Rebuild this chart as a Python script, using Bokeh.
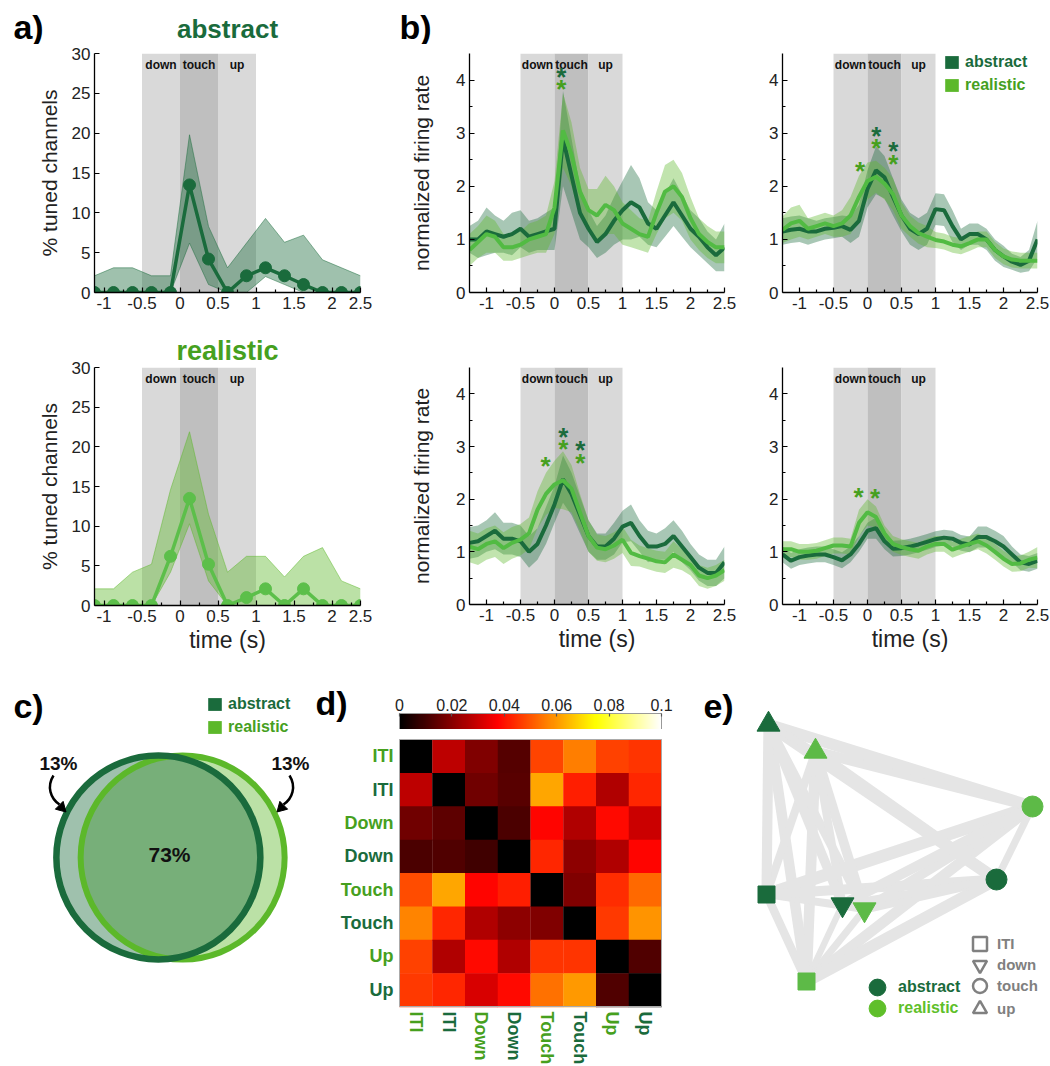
import math
import numpy as np
from bokeh.plotting import figure
from bokeh.layouts import row, column
from bokeh.models import (Range1d, FixedTicker, ColumnDataSource, Legend,
                          LegendItem, LinearColorMapper, PrintfTickFormatter)
from bokeh.transform import linear_cmap
from bokeh.core.properties import value
from bokeh.embed import file_html
from bokeh.resources import INLINE

FONT = "Liberation Sans"
DARK = "#1a6b3c"
LIGHT = "#5cb82a"
LIGHT_LINE = "#52bb43"
LIGHT_NODE = "#5dba47"
LIGHT_TXT = "#46a01e"
BAND = "#d9d9d9"
BAND_TOUCH = "#bfbfbf"
TXT = "#222222"

# ---------------- shared event windows (s) ----------------
event_names = ["down", "touch", "up"]
event_start = [-0.5, 0.0, 0.5]
event_end = [0.0, 0.5, 1.0]

# ---------------- a) % tuned channels ----------------
bin_time = [-1.125, -0.875, -0.625, -0.375, -0.125, 0.125, 0.375, 0.625,
            0.875, 1.125, 1.375, 1.625, 1.875, 2.125, 2.375]
tuned_abs_mean = [0, 0, 0, 0, 0, 13.5, 4.2, 0, 2.1, 3.1, 2.1, 1.0, 0, 0, 0]
tuned_abs_hi = [2.1, 3.1, 3.1, 2.1, 2.1, 19.8, 8.3, 3.1, 6.2, 9.3, 6.3, 7.2, 4.1, 3.1, 2.1]
tuned_abs_lo = [0, 0, 0, 0, 0, 6.2, 1.0, 0, 0, 2.0, 1.0, 0, 0, 0, 0]
tuned_real_mean = [0, 0, 0, 0, 6.2, 13.5, 5.2, 0, 1.0, 2.1, 0, 2.1, 0, 0, 0]
tuned_real_hi = [2.1, 2.1, 4.2, 5.2, 14.6, 21.9, 11.5, 4.2, 6.2, 6.2, 3.6, 6.2, 7.3, 3.1, 2.1]
tuned_real_lo = [0, 0, 0, 0, 4.2, 10.3, 3.1, 0, 0, 0, 0, 0, 0, 0, 0]

# ---------------- b) normalized firing rate (mean and sem) ----------------
b_time = [-1.25, -1.125, -1.0, -0.875, -0.75, -0.625, -0.5, -0.375, -0.25, -0.125,
          0.0, 0.125, 0.25, 0.375, 0.5, 0.625, 0.75, 0.875, 1.0, 1.125,
          1.25, 1.375, 1.5, 1.625, 1.75, 1.875, 2.0, 2.125, 2.25, 2.375, 2.5]

b1_abs = [1.0, 1.0, 1.15, 1.1, 1.05, 1.1, 1.2, 1.05, 1.1, 1.15,
          1.2, 2.9, 2.2, 1.5, 1.2, 0.95, 1.1, 1.35, 1.55, 1.7,
          1.6, 1.3, 1.2, 1.45, 1.7, 1.45, 1.2, 1.05, 0.85, 0.7, 0.85]
b1_abs_sem = [0.25, 0.35, 0.45, 0.35, 0.3, 0.4, 0.35, 0.3, 0.3, 0.35,
              0.4, 0.9, 0.7, 0.5, 0.35, 0.3, 0.35, 0.45, 0.55, 0.7,
              0.55, 0.4, 0.35, 0.4, 0.45, 0.4, 0.35, 0.35, 0.3, 0.3, 0.45]
b1_real = [0.8, 0.95, 1.1, 1.05, 0.85, 0.85, 0.9, 1.0, 1.05, 1.1,
           1.6, 3.05, 2.6, 1.9, 1.55, 1.45, 1.65, 1.55, 1.3, 1.2,
           1.1, 1.05, 1.5, 1.9, 2.0, 1.8, 1.4, 1.1, 0.95, 0.85, 0.85]
b1_real_sem = [0.3, 0.3, 0.35, 0.3, 0.25, 0.25, 0.25, 0.3, 0.3, 0.35,
               0.5, 0.7, 0.6, 0.45, 0.4, 0.5, 0.55, 0.45, 0.4, 0.35,
               0.3, 0.3, 0.4, 0.5, 0.5, 0.45, 0.4, 0.3, 0.3, 0.3, 0.3]

b2_abs = [1.15, 1.18, 1.2, 1.15, 1.15, 1.2, 1.22, 1.25, 1.18, 1.35,
          1.95, 2.3, 2.17, 1.8, 1.45, 1.2, 1.1, 1.2, 1.57, 1.55,
          1.25, 1.0, 1.1, 1.1, 1.0, 0.8, 0.68, 0.58, 0.52, 0.6, 1.0]
b2_abs_sem = [0.25, 0.25, 0.25, 0.25, 0.2, 0.2, 0.2, 0.2, 0.25, 0.3,
              0.35, 0.45, 0.4, 0.35, 0.3, 0.3, 0.3, 0.3, 0.3, 0.3,
              0.3, 0.2, 0.2, 0.2, 0.2, 0.2, 0.2, 0.15, 0.15, 0.2, 0.35]
b2_real = [1.18, 1.3, 1.35, 1.2, 1.25, 1.3, 1.25, 1.3, 1.45, 1.8,
           2.1, 2.18, 2.05, 1.85, 1.45, 1.25, 1.12, 1.05, 0.99, 0.96,
           0.9, 0.87, 0.93, 1.0, 1.0, 0.8, 0.68, 0.62, 0.6, 0.6, 0.6]
b2_real_sem = [0.25, 0.3, 0.3, 0.2, 0.2, 0.2, 0.2, 0.25, 0.35, 0.4,
               0.35, 0.3, 0.3, 0.3, 0.25, 0.2, 0.2, 0.2, 0.15, 0.15,
               0.15, 0.15, 0.15, 0.15, 0.15, 0.15, 0.15, 0.15, 0.15, 0.15, 0.15]

b3_abs = [1.17, 1.2, 1.3, 1.4, 1.25, 1.25, 1.2, 1.0, 1.15, 1.5,
          1.9, 2.38, 2.1, 1.7, 1.3, 1.1, 1.1, 1.25, 1.48, 1.55,
          1.3, 1.1, 1.1, 1.15, 1.3, 1.1, 0.9, 0.7, 0.6, 0.6, 0.8]
b3_abs_sem = [0.3, 0.3, 0.3, 0.35, 0.3, 0.3, 0.3, 0.3, 0.3, 0.35,
              0.35, 0.45, 0.4, 0.35, 0.3, 0.25, 0.25, 0.3, 0.3, 0.35,
              0.3, 0.3, 0.25, 0.3, 0.3, 0.3, 0.25, 0.25, 0.25, 0.25, 0.3]
b3_real = [1.1, 1.05, 1.15, 1.2, 1.07, 1.17, 1.23, 1.35, 1.8, 2.1,
           2.28, 2.36, 2.2, 1.75, 1.3, 1.08, 1.05, 1.12, 1.23, 0.98,
           0.92, 0.87, 0.82, 0.8, 0.95, 0.85, 0.75, 0.55, 0.5, 0.55, 0.65]
b3_real_sem = [0.3, 0.3, 0.3, 0.3, 0.3, 0.3, 0.3, 0.3, 0.35, 0.4,
               0.45, 0.55, 0.45, 0.35, 0.3, 0.25, 0.25, 0.25, 0.25, 0.25,
               0.2, 0.2, 0.2, 0.2, 0.25, 0.2, 0.2, 0.2, 0.2, 0.2, 0.2]

b4_abs = [0.95, 0.83, 0.9, 0.93, 0.95, 0.95, 0.9, 0.84, 0.95, 1.15,
          1.4, 1.45, 1.2, 1.06, 1.07, 1.1, 1.14, 1.19, 1.24, 1.27,
          1.25, 1.17, 1.14, 1.28, 1.28, 1.2, 1.1, 0.95, 0.8, 0.77, 0.83]
b4_abs_sem = [0.15, 0.15, 0.15, 0.15, 0.15, 0.15, 0.15, 0.15, 0.15, 0.15,
              0.15, 0.2, 0.15, 0.15, 0.15, 0.15, 0.15, 0.15, 0.15, 0.15,
              0.15, 0.15, 0.15, 0.2, 0.2, 0.2, 0.2, 0.15, 0.15, 0.15, 0.15]
b4_real = [1.05, 1.05, 1.0, 1.0, 1.02, 1.07, 1.12, 1.12, 1.1, 1.55,
           1.75, 1.66, 1.35, 1.15, 1.09, 1.05, 1.02, 1.1, 1.15, 1.15,
           1.04, 1.1, 1.15, 1.2, 1.12, 1.0, 0.87, 0.77, 0.78, 0.85, 0.89]
b4_real_sem = [0.15, 0.15, 0.15, 0.15, 0.15, 0.15, 0.15, 0.15, 0.15, 0.25,
               0.25, 0.2, 0.15, 0.15, 0.15, 0.15, 0.15, 0.15, 0.15, 0.15,
               0.15, 0.15, 0.15, 0.15, 0.15, 0.15, 0.15, 0.15, 0.15, 0.15, 0.2]

# significance markers: (time, height, condition)
b1_stars = [(0.1, 4.15, "abstract"), (0.1, 3.92, "realistic")]
b2_stars = [(0.13, 3.04, "abstract"), (0.13, 2.81, "realistic"),
            (0.38, 2.75, "abstract"), (0.38, 2.52, "realistic"), (-0.11, 2.39, "realistic")]
b3_stars = [(0.13, 3.28, "abstract"), (0.13, 3.05, "realistic"),
            (0.38, 3.02, "abstract"), (0.38, 2.79, "realistic"), (-0.13, 2.73, "realistic")]
b4_stars = [(-0.13, 2.14, "realistic"), (0.11, 2.11, "realistic")]

# ---------------- c) Venn percentages ----------------
venn_abstract_only = 13
venn_both = 73
venn_realistic_only = 13

# ---------------- d) dissimilarity matrix ----------------
state_names = ["ITI", "ITI", "Down", "Down", "Touch", "Touch", "Up", "Up"]
state_cond = ["realistic", "abstract"] * 4
dissim = [
    [0.0, 0.028, 0.019, 0.0125, 0.0475, 0.056, 0.047, 0.045],
    [0.028, 0.0, 0.0165, 0.013, 0.062, 0.042, 0.026, 0.043],
    [0.0165, 0.014, 0.0, 0.011, 0.038, 0.026, 0.039, 0.030],
    [0.011, 0.012, 0.0095, 0.0, 0.043, 0.021, 0.026, 0.038],
    [0.0485, 0.062, 0.038, 0.042, 0.0, 0.019, 0.044, 0.053],
    [0.057, 0.043, 0.026, 0.021, 0.019, 0.0, 0.046, 0.059],
    [0.047, 0.026, 0.039, 0.026, 0.045, 0.045, 0.0, 0.012],
    [0.046, 0.043, 0.032, 0.039, 0.054, 0.060, 0.012, 0.0],
]
cbar_ticks = [0, 0.02, 0.04, 0.06, 0.08, 0.1]

# ---------------- e) MDS embedding (same order as matrix) ----------------
mds_x = [-0.94, -1.34, -0.36, -0.58, 1.32, 0.96, -0.85, -1.32]
mds_y = [-1.31, -0.44, -0.59, -0.54, 0.44, -0.29, 0.99, 1.26]


# ======================= helpers =======================
def no_align(p):
    try:
        p.frame_align = False
    except Exception:
        pass
    return p


def base_fig(fw, fh, bl, br, bt, bb, xr, yr, axes=True, **extra):
    kw = {}
    if not axes:
        kw.update(x_axis_location=None, y_axis_location=None)
    kw.update(extra)
    p = figure(frame_width=fw, frame_height=fh, min_border_left=bl, min_border_right=br,
               min_border_top=bt, min_border_bottom=bb,
               x_range=Range1d(*xr), y_range=Range1d(*yr),
               output_backend="svg", toolbar_location=None, tools="", **kw)
    p.outline_line_color = None
    p.grid.visible = False
    p.background_fill_color = "white"
    p.border_fill_color = "white"
    return no_align(p)


def style_axis(ax, size="17px"):
    ax.axis_line_color = "black"
    ax.axis_line_width = 1.3
    ax.major_tick_in = 5
    ax.major_tick_out = 0
    ax.minor_tick_in = 3
    ax.minor_tick_out = 0
    ax.major_tick_line_color = "black"
    ax.minor_tick_line_color = "black"
    ax.major_tick_line_width = 1.2
    ax.minor_tick_line_width = 1.2
    ax.major_label_text_font = FONT
    ax.major_label_text_font_size = size
    ax.major_label_text_color = TXT
    ax.major_label_standoff = 4
    ax.axis_label_text_font = FONT
    ax.axis_label_text_font_style = "normal"
    ax.axis_label_text_font_size = "21px"
    ax.axis_label_text_color = TXT


def glyph_texts(p, x, y, text, size, color, bold=True, align="center", baseline="middle",
                angle=0.0):
    n = len(x)
    colors = color if isinstance(color, list) else [color] * n
    src = ColumnDataSource(dict(x=list(x), y=list(y), t=list(text), c=colors))
    p.text(x="x", y="y", text="t", source=src, text_color="c", text_font=value(FONT),
           text_font_size=size, text_font_style="bold" if bold else "normal",
           text_align=align, text_baseline=baseline, angle=angle)


def add_legend(p, renderer, label, color, loc, gw, gh, size, standoff=5, lh=16):
    lg = Legend(items=[LegendItem(label=label, renderers=[renderer])], location=loc,
                orientation="vertical", glyph_width=gw, glyph_height=gh,
                label_text_font=FONT, label_text_font_size=size,
                label_text_font_style="bold", label_text_color=color,
                label_standoff=standoff, padding=0, margin=0, spacing=0,
                label_height=lh, border_line_color=None, background_fill_alpha=0)
    p.add_layout(lg, "center")
    return lg


def event_bands(p, top, px_per_unit):
    centers = [(s + e) / 2 for s, e in zip(event_start, event_end)]
    p.quad(left=event_start, right=event_end, bottom=0, top=top,
           fill_color=[BAND, BAND_TOUCH, BAND], line_color=None)
    glyph_texts(p, centers, [top - 4.0 / px_per_unit] * 3, event_names, "12px", "#111111",
                bold=True, baseline="top")


# ======================= header strip (panel letters and a) title) =======================
HDR_H = 44
hdr = base_fig(1050, HDR_H, 0, 0, 0, 0, (0, 1050), (HDR_H, 0), axes=False)
glyph_texts(hdr, [28, 415], [26, 26], ["a)", "b)"], "34px", "black", bold=True)
glyph_texts(hdr, [227], [28], ["abstract"], "26px", DARK, bold=True, baseline="middle")
TOP_PAD = 53 - HDR_H


# ======================= a) =======================
def panel_a(mean, hi, lo, line_color, fill_color, title, title_color, top, fh, bottom, last):
    p = base_fig(266, fh, 94, 40, top, bottom, (bin_time[0], bin_time[-1]), (0, 30))
    event_bands(p, 30, fh / 30.0)
    p.varea(x=bin_time, y1=lo, y2=hi, fill_color=fill_color, fill_alpha=0.42)
    p.line(bin_time, hi, line_color=fill_color, line_width=0.8, line_alpha=0.6)
    p.line(bin_time, lo, line_color=fill_color, line_width=0.8, line_alpha=0.6)
    p.line(bin_time, mean, line_color=line_color, line_width=3.5)
    p.scatter(bin_time, mean, size=12, fill_color=line_color, line_color=line_color)
    xa, ya = p.xaxis[0], p.yaxis[0]
    style_axis(xa)
    style_axis(ya)
    xa.ticker = FixedTicker(ticks=[-1, -0.5, 0, 0.5, 1, 1.5, 2, bin_time[-1]],
                            minor_ticks=[-0.75, -0.25, 0.25, 0.75, 1.25, 1.75, 2.25])
    xa.formatter = PrintfTickFormatter(format="%g")
    xa.major_label_overrides = {bin_time[-1]: "2.5"}
    ya.ticker = FixedTicker(ticks=[0, 5, 10, 15, 20, 25, 30], minor_ticks=[])
    ya.axis_label = "% tuned channels"
    ya.axis_label_standoff = 8
    if title:
        p.title.text = title
        p.title.align = "center"
        p.title.text_font = FONT
        p.title.text_font_size = "27px"
        p.title.text_font_style = "bold"
        p.title.text_color = title_color
        p.title.standoff = 3
    if last:
        xa.axis_label = "time (s)"
        xa.axis_label_text_font_size = "23px"
        xa.axis_label_standoff = 2
    return p


a1 = panel_a(tuned_abs_mean, tuned_abs_hi, tuned_abs_lo, DARK, DARK, None, DARK,
             TOP_PAD, 239, 38, False)
a2 = panel_a(tuned_real_mean, tuned_real_hi, tuned_real_lo, "#5cbf4a", LIGHT, "realistic",
             LIGHT_TXT, 37, 238, 55, True)


# ======================= b) =======================
def panel_b(am, asem, rm, rsem, stars, left, right, top, fh, bottom, ylabel, xlabel):
    p = base_fig(255, fh, left, right, top, bottom, (-1.25, 2.5), (0, 4.5))
    ppu = fh / 4.5
    event_bands(p, 4.5, ppu)
    a_lo = [m - s for m, s in zip(am, asem)]
    a_hi = [m + s for m, s in zip(am, asem)]
    r_lo = [m - s for m, s in zip(rm, rsem)]
    r_hi = [m + s for m, s in zip(rm, rsem)]
    p.varea(x=b_time, y1=a_lo, y2=a_hi, fill_color=DARK, fill_alpha=0.38)
    p.varea(x=b_time, y1=r_lo, y2=r_hi, fill_color=LIGHT, fill_alpha=0.38)
    p.line(b_time, am, line_color=DARK, line_width=4)
    p.line(b_time, rm, line_color=LIGHT_LINE, line_width=4)
    sx = [s[0] for s in stars]
    sy = [s[1] - 5.0 / ppu for s in stars]
    sc = [DARK if s[2] == "abstract" else LIGHT_TXT for s in stars]
    glyph_texts(p, sx, sy, ["*"] * len(stars), "26px", sc, bold=True, baseline="alphabetic")
    xa, ya = p.xaxis[0], p.yaxis[0]
    style_axis(xa)
    style_axis(ya)
    xa.ticker = FixedTicker(ticks=[-1, -0.5, 0, 0.5, 1, 1.5, 2, 2.5],
                            minor_ticks=[-0.75, -0.25, 0.25, 0.75, 1.25, 1.75, 2.25])
    xa.formatter = PrintfTickFormatter(format="%g")
    ya.ticker = FixedTicker(ticks=[0, 1, 2, 3, 4], minor_ticks=[0.5, 1.5, 2.5, 3.5])
    if ylabel:
        ya.axis_label = "normalized firing rate"
        ya.axis_label_standoff = 20
    if xlabel:
        xa.axis_label = "time (s)"
        xa.axis_label_text_font_size = "23px"
        xa.axis_label_standoff = 2
    return p


b1 = panel_b(b1_abs, b1_abs_sem, b1_real, b1_real_sem, b1_stars, 69, 26, TOP_PAD, 239, 38, True, False)
b2 = panel_b(b2_abs, b2_abs_sem, b2_real, b2_real_sem, b2_stars, 32, 13, TOP_PAD, 239, 38, False, False)
b3 = panel_b(b3_abs, b3_abs_sem, b3_real, b3_real_sem, b3_stars, 69, 26, 37, 237, 56, True, True)
b4 = panel_b(b4_abs, b4_abs_sem, b4_real, b4_real_sem, b4_stars, 32, 13, 37, 237, 56, False, True)

# legend swatches (one hidden off-range mark each, so the legend can draw its glyph)
rq1 = b2.quad(left=[50], right=[51], top=[51], bottom=[50], fill_color=DARK, line_color=None)
rq2 = b2.quad(left=[50], right=[51], top=[51], bottom=[50], fill_color=LIGHT, line_color=None)
add_legend(b2, rq1, "abstract", DARK, (161, 221), 17, 16, "16px")
add_legend(b2, rq2, "realistic", LIGHT_TXT, (161, 198), 17, 16, "16px")


# ======================= c) Venn =======================
def lens_area(d, r):
    if d >= 2 * r:
        return 0.0
    return 2 * r * r * math.acos(d / (2 * r)) - (d / 2) * math.sqrt(4 * r * r - d * d)


c = base_fig(312, 406, 0, 0, 0, 0, (0, 312), (0, 406), axes=False)
R = 102.0
frac = venn_both / (venn_both + venn_abstract_only)
lo_d, hi_d = 0.0, 2 * R
for _ in range(60):
    mid_d = (lo_d + hi_d) / 2
    if lens_area(mid_d, R) / (math.pi * R * R) > frac:
        lo_d = mid_d
    else:
        hi_d = mid_d
D = (lo_d + hi_d) / 2
CX, CY = 170.0, 209.0
xa_c, xr_c = CX - D / 2, CX + D / 2
c.circle(x=[xr_c], y=[CY], radius=R, fill_color=LIGHT, fill_alpha=0.42, line_color=None)
c.circle(x=[xa_c], y=[CY], radius=R, fill_color=DARK, fill_alpha=0.42, line_color=None)
c.circle(x=[xr_c], y=[CY], radius=R, fill_color=None, line_color=LIGHT, line_width=6)
c.circle(x=[xa_c], y=[CY], radius=R, fill_color=None, line_color=DARK, line_width=6.5)
glyph_texts(c, [CX - 1], [CY + 3], ["%d%%" % venn_both], "21px", "#111111", bold=True)
glyph_texts(c, [58, 290], [303, 303],
            ["%d%%" % venn_abstract_only, "%d%%" % venn_realistic_only],
            "19px", "#111111", bold=True)
MIRROR = 171.0
c.bezier(x0=[53, 2 * MIRROR - 53], y0=[291, 291], x1=[59, 2 * MIRROR - 59], y1=[262, 262],
         cx0=[46, 2 * MIRROR - 46], cy0=[280, 280], cx1=[50, 2 * MIRROR - 50], cy1=[268, 268],
         line_color="black", line_width=2.5)
c.scatter(x=[61, 2 * MIRROR - 61], y=[259, 259], marker="triangle", size=11,
          angle=[math.atan2(-1, -1), math.atan2(1, -1)], fill_color="black", line_color="black")
glyph_texts(c, [28], [361], ["c)"], "34px", "black", bold=True)
cq1 = c.quad(left=[900], right=[901], top=[901], bottom=[900], fill_color=DARK, line_color=None)
cq2 = c.quad(left=[900], right=[901], top=[901], bottom=[900], fill_color=LIGHT, line_color=None)
add_legend(c, cq1, "abstract", DARK, (206, 353), 17, 16, "16px")
add_legend(c, cq2, "realistic", LIGHT_TXT, (206, 330), 17, 16, "16px")


# ======================= d) heatmap =======================
def hot_palette(n=256):
    out = []
    for i in range(n):
        t = i / (n - 1)
        r = min(1.0, t / 0.375)
        g = min(1.0, max(0.0, (t - 0.375) / 0.375))
        b = min(1.0, max(0.0, (t - 0.75) / 0.25))
        out.append("#%02x%02x%02x" % (int(round(r * 255)), int(round(g * 255)), int(round(b * 255))))
    return out


HOT = hot_palette()
cmap = LinearColorMapper(palette=HOT, low=0, high=0.1)

# colour bar: 262 px wide bar, frame widened so the panel letter fits inside it
CB_U = 0.1 / 262.0
cb = base_fig(388, 44, 0, 0, 25, 0, (-87 * CB_U, 0.1 + 39 * CB_U), (0, 44 / 16.0),
              axes=True, x_axis_location="above", y_axis_location=None)
grad = np.linspace(0, 0.1, 256).reshape(1, 256)
cb.image(image=[grad], x=0, y=0, dw=0.1, dh=1, color_mapper=cmap)
cb.rect(x=[0.05], y=[0.5], width=0.1, height=1, fill_color=None, line_color="#999999")
cax = cb.xaxis[0]
style_axis(cax, size="16px")
cax.fixed_location = 1
cax.bounds = (0, 0.1)
cax.axis_line_color = None
cax.major_tick_in = 3
cax.major_tick_line_color = "#555555"
cax.ticker = FixedTicker(ticks=cbar_ticks, minor_ticks=[])
cax.formatter = PrintfTickFormatter(format="%g")
cax.major_label_standoff = 3
glyph_texts(cb, [-87 * CB_U + 19 * CB_U], [27 / 16.0], ["d)"], "34px", "black", bold=True)

# heatmap frame spans the whole cell so the row / column names sit inside it
CELL_W, CELL_H = 262 / 8.0, 267 / 8.0
hx_range = (-0.5 - 87 / CELL_W, 7.5 + 39 / CELL_W)
hy_range = (7.5 + 60 / CELL_H, -0.5 - 10 / CELL_H)
hm = base_fig(388, 337, 0, 0, 0, 0, hx_range, hy_range, axes=False)
hx, hy, hv = [], [], []
for i in range(8):
    for j in range(8):
        hx.append(j)
        hy.append(i)
        hv.append(dissim[i][j])
hm.rect(x="x", y="y", width=1, height=1, source=ColumnDataSource(dict(x=hx, y=hy, v=hv)),
        fill_color=linear_cmap("v", HOT, 0, 0.1), line_color=None, dilate=True)
hm.rect(x=[3.5], y=[3.5], width=8, height=8, fill_color=None, line_color="#aaaaaa", line_width=1)
lab_cols = [LIGHT_TXT if cnd == "realistic" else DARK for cnd in state_cond]
glyph_texts(hm, [-0.5 - 6 / CELL_W] * 8, list(range(8)), state_names, "18px", lab_cols,
            bold=True, align="right")
glyph_texts(hm, list(range(8)), [7.5 + 5 / CELL_H] * 8, state_names, "18px", lab_cols,
            bold=True, align="left", angle=-math.pi / 2)


# ======================= e) graph =======================
e = base_fig(350, 406, 0, 0, 0, 0, (-2.0, 1.5), (-2.16, 1.90), axes=False)
ex0, ey0, ex1, ey1, ew = [], [], [], [], []
for i in range(8):
    for j in range(i + 1, 8):
        ex0.append(mds_x[i]); ey0.append(mds_y[i])
        ex1.append(mds_x[j]); ey1.append(mds_y[j])
        dd = (dissim[i][j] + dissim[j][i]) / 2
        ew.append(5 + 120 * dd)
e.segment(x0="x0", y0="y0", x1="x1", y1="y1", line_width="w", line_color="#e5e5e5",
          source=ColumnDataSource(dict(x0=ex0, y0=ey0, x1=ex1, y1=ey1, w=ew)))
marker_of = {"ITI": "square", "Down": "inverted_triangle", "Touch": "circle", "Up": "triangle"}
size_of = {"ITI": 17, "Down": 23, "Touch": 21, "Up": 23}
node_col = [LIGHT_NODE if cnd == "realistic" else DARK for cnd in state_cond]
e.scatter(x="x", y="y", marker="m", size="s", fill_color="c", line_color="c",
          source=ColumnDataSource(dict(x=mds_x, y=mds_y, m=[marker_of[s] for s in state_names],
                                       s=[size_of[s] for s in state_names], c=node_col)))
glyph_texts(e, [-1.82], [1.45], ["e)"], "34px", "black", bold=True)

OFF = [50.0]
ed = e.scatter(x=OFF, y=OFF, marker="circle", fill_color=DARK, line_color=DARK)
el = e.scatter(x=OFF, y=OFF, marker="circle", fill_color="#5fbf2a", line_color="#5fbf2a")
add_legend(e, ed, "abstract", DARK, (156, 58), 42, 42, "16px", standoff=-3)
add_legend(e, el, "realistic", "#5fbf2a", (156, 37), 42, 42, "16px", standoff=-3)
shape_y = [105, 84, 63, 40]
for (nm, lbl), ly in zip([("ITI", "ITI"), ("Down", "down"), ("Touch", "touch"), ("Up", "up")],
                         shape_y):
    r = e.scatter(x=OFF, y=OFF, marker=marker_of[nm], fill_color=None, line_color="#808080",
                  line_width=2.5)
    add_legend(e, r, lbl, "#808080", (262, ly), 35, 35, "15px", standoff=0)

# ======================= layout =======================
top = row(column(a1, a2), column(b1, b3), column(b2, b4))
bottom = row(c, column(cb, hm), e)
layout = column(hdr, top, bottom)

open("out.html", "w").write(file_html(layout, INLINE, title="figure"))
